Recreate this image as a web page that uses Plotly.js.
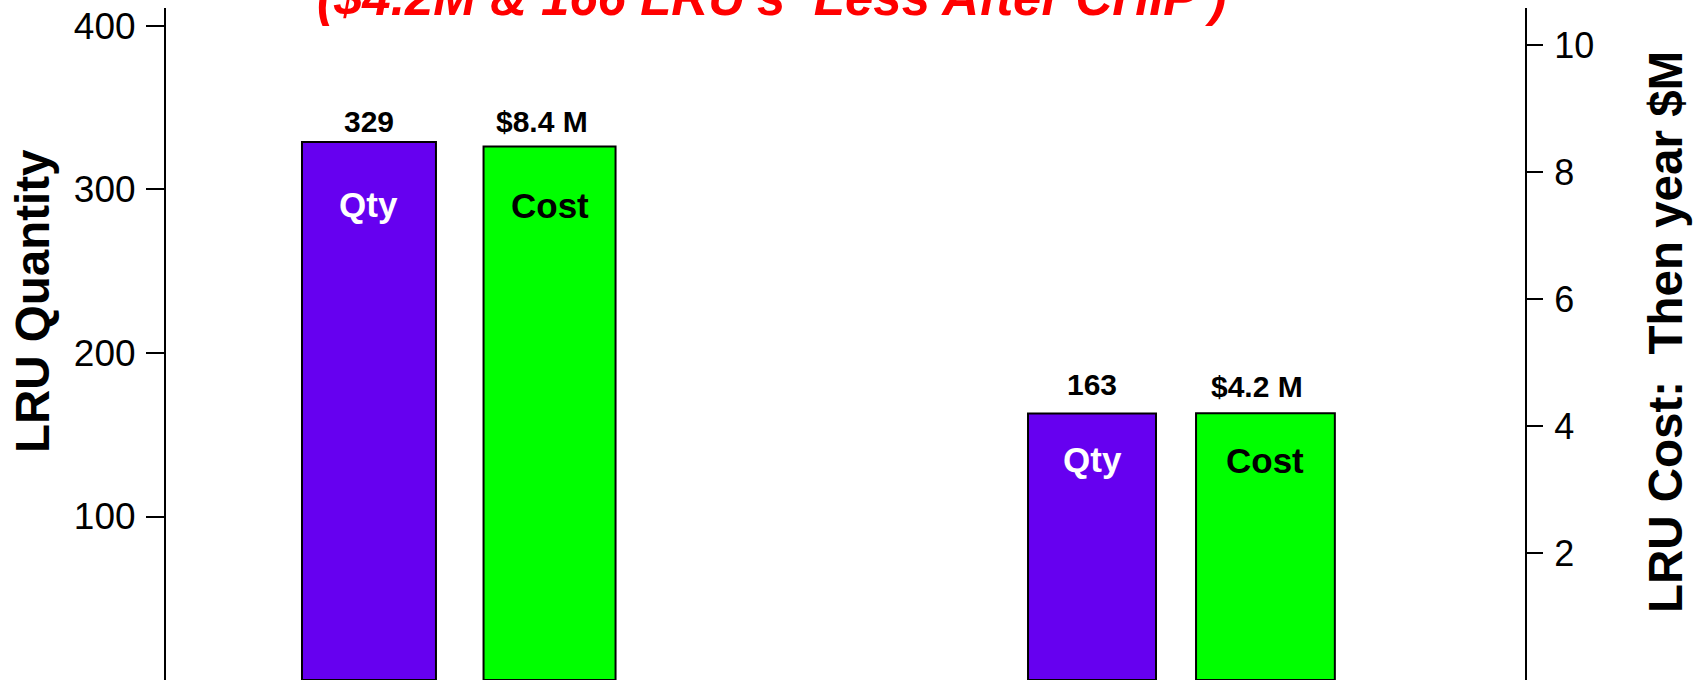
<!DOCTYPE html>
<html>
<head>
<meta charset="utf-8">
<script src="https://cdn.plot.ly/plotly-3.0.1.min.js"></script>
<style>
html,body{margin:0;padding:0;background:#fff;}
#chart{width:1702px;height:680px;}
</style>
</head>
<body>
<div id="chart"></div>
<script>
// ---- data ----
const categories = ["Before", "After"];
const qtyValues = [329, 163];
const costValues = [8.4, 4.2];
const qtyLabels = ["329", "163"];
const costLabels = ["$8.4 M", "$4.2 M"];
const seriesNames = ["Qty", "Cost"];
const qtyTicks = [100, 200, 300, 400];
const costTicks = [2, 4, 6, 8, 10];
const chartTitle = "($4.2M & 166 LRU's  Less After CHIP )";
const leftTitle = "LRU Quantity";
const rightTitle = "LRU Cost:  Then year $M";

// ---- styles ----
const FONT = "Liberation Sans, Arial, Helvetica, sans-serif";
const qtyColor = "#6600F0";
const costColor = "#00FF00";
const qtyOffset = [-0.2165, -0.2123], qtyWidth = [0.1853, 0.177];
const costOffset = [0.0346, 0.0201], costWidth = [0.1826, 0.192];

const traces = [
  {
    type: "bar", name: seriesNames[0], x: categories, y: qtyValues, yaxis: "y",
    offset: qtyOffset, width: qtyWidth,
    marker: {color: qtyColor, line: {color: "#000", width: 2}},
    hoverinfo: "none"
  },
  {
    type: "bar", name: seriesNames[1], x: categories, y: costValues, yaxis: "y2",
    offset: costOffset, width: costWidth,
    marker: {color: costColor, line: {color: "#000", width: 2}},
    hoverinfo: "none"
  }
];

// label placement tweaks (pixels)
const valShiftQty = [20.6, 29], valShiftCost = [25.1, 26.8];
const inShiftQty = [-62.9, -46.5], inShiftCost = [-58.4, -46.7];
const valXShiftCost = [-8, -8];

const annotations = [];
categories.forEach((c, i) => {
  const xq = i + qtyOffset[i] + qtyWidth[i] / 2;
  const xc = i + costOffset[i] + costWidth[i] / 2;
  annotations.push({x: xq, y: qtyValues[i], xref: "x", yref: "y", text: "<b>" + qtyLabels[i] + "</b>",
    showarrow: false, yanchor: "middle", yshift: valShiftQty[i], font: {family: FONT, size: 30, color: "#000"}});
  annotations.push({x: xc, y: costValues[i], xref: "x", yref: "y2", text: "<b>" + costLabels[i] + "</b>",
    showarrow: false, yanchor: "middle", yshift: valShiftCost[i], xshift: valXShiftCost[i], font: {family: FONT, size: 30, color: "#000"}});
  annotations.push({x: xq, y: qtyValues[i], xref: "x", yref: "y", text: "<b>" + seriesNames[0] + "</b>",
    showarrow: false, yanchor: "middle", yshift: inShiftQty[i], font: {family: FONT, size: 35, color: "#fff"}});
  annotations.push({x: xc, y: costValues[i], xref: "x", yref: "y2", text: "<b>" + seriesNames[1] + "</b>",
    showarrow: false, yanchor: "middle", yshift: inShiftCost[i], font: {family: FONT, size: 35, color: "#000"}});
});
annotations.push({text: "<b><i>" + chartTitle + "</i></b>", xref: "paper", yref: "paper", x: 0.4459, y: 1.0159,
  xanchor: "center", yanchor: "middle", showarrow: false, font: {family: FONT, size: 51, color: "#FF0000"}});
annotations.push({text: "<b>" + leftTitle + "</b>", xref: "paper", yref: "paper", x: -0.0979, y: 0.564,
  xanchor: "center", yanchor: "middle", textangle: -90, showarrow: false, font: {family: FONT, size: 47.5, color: "#000"}});
annotations.push({text: "<b>" + rightTitle + "</b>", xref: "paper", yref: "paper", x: 1.1038, y: 0.5179,
  xanchor: "center", yanchor: "middle", textangle: -90, showarrow: false, font: {family: FONT, size: 47.5, color: "#000"}});

const axisCommon = {
  showline: true, linecolor: "#000", linewidth: 2, ticks: "outside", tickwidth: 2, tickcolor: "#000",
  showgrid: false, zeroline: false, fixedrange: true
};

const layout = {
  width: 1702, height: 680,
  margin: {l: 166, r: 177, t: 8, b: 0, pad: 0},
  paper_bgcolor: "#fff", plot_bgcolor: "#fff",
  showlegend: false, barmode: "overlay", hovermode: false,
  xaxis: {type: "category", range: [-0.4046, 1.4751], showline: false, showticklabels: false, ticks: "",
          showgrid: false, zeroline: false, fixedrange: true},
  yaxis: Object.assign({}, axisCommon, {range: [0, 411.0], tickvals: qtyTicks, ticklen: 18, ticklabelstandoff: 3,
          tickfont: {family: FONT, size: 37, color: "#000"}}),
  yaxis2: Object.assign({}, axisCommon, {range: [0, 10.583], tickvals: costTicks, ticklen: 16, ticklabelstandoff: 4,
          tickfont: {family: FONT, size: 36, color: "#000"}, overlaying: "y", side: "right"}),
  annotations: annotations
};

Plotly.newPlot("chart", traces, layout, {displayModeBar: false, staticPlot: true});
</script>
</body>
</html>
